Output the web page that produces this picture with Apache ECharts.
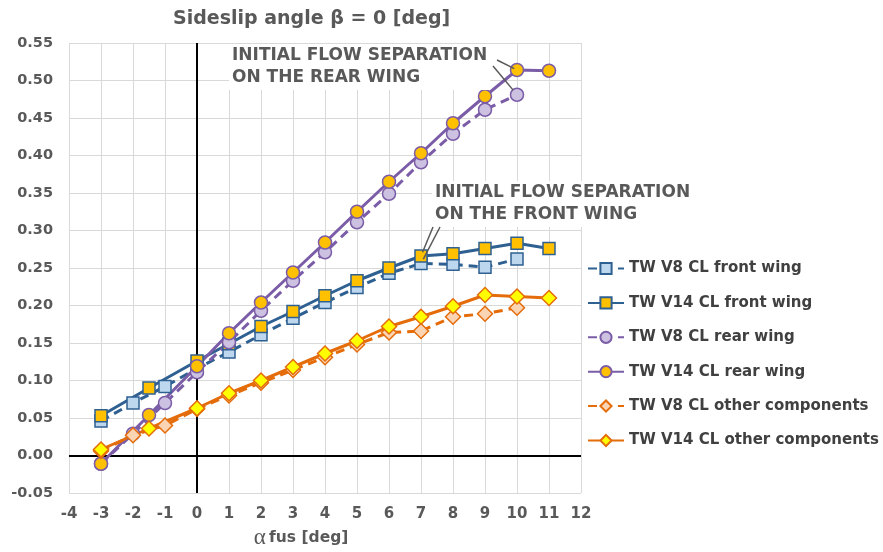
<!DOCTYPE html>
<html><head><meta charset="utf-8">
<script src="https://cdn.jsdelivr.net/npm/echarts@6/dist/echarts.min.js"></script>
<style>html,body{margin:0;padding:0;background:#fff}#c{width:883px;height:552px}</style>
</head><body><div id="c"></div>
<script>
// ---- data ----
var xV8  = [-3, -2, -1, 0, 1, 2, 3, 4, 5, 6, 7, 8, 9, 10];
var xV14 = [-3, -1.5, 0, 1, 2, 3, 4, 5, 6, 7, 8, 9, 10, 11];
var v8Front  = [0.046, 0.070, 0.092, 0.116, 0.138, 0.161, 0.183, 0.204, 0.224, 0.243, 0.256, 0.255, 0.251, 0.262];
var v14Front = [0.053, 0.090, 0.126, 0.149, 0.172, 0.192, 0.213, 0.233, 0.250, 0.266, 0.269, 0.276, 0.283, 0.276];
var v8Rear   = [-0.011, 0.029, 0.070, 0.111, 0.151, 0.193, 0.233, 0.271, 0.311, 0.349, 0.391, 0.429, 0.461, 0.481];
var v14Rear  = [-0.011, 0.054, 0.119, 0.163, 0.204, 0.244, 0.284, 0.325, 0.365, 0.403, 0.443, 0.479, 0.514, 0.513];
var v8Other  = [0.006, 0.027, 0.040, 0.062, 0.080, 0.097, 0.114, 0.131, 0.148, 0.164, 0.166, 0.185, 0.189, 0.197];
var v14Other = [0.008, 0.036, 0.063, 0.083, 0.100, 0.118, 0.136, 0.153, 0.172, 0.185, 0.199, 0.214, 0.212, 0.210];
var seriesNames = ['TW V8 CL front wing', 'TW V14 CL front wing', 'TW V8 CL rear wing',
                   'TW V14 CL rear wing', 'TW V8 CL other components', 'TW V14 CL other components'];
var xTicks = [-4, 12, 1];
var yTicks = [-0.05, 0.55, 0.05];

var BLUE = '#2f6092', PURPLE = '#7a5ca7', ORANGE = '#e46c0a';
var FONT = 'DejaVu Sans, sans-serif';
var GRAY = '#595959';

function pairs(xs, ys) { return xs.map(function (x, i) { return [x, ys[i]]; }); }
function mk(name, xs, ys, color, fill, symbol, size, dashed) {
  return {
    name: name, type: 'line', data: pairs(xs, ys),
    symbol: symbol, symbolSize: size, showAllSymbol: true,
    lineStyle: { color: color, width: 3, type: dashed ? [9, 6] : 'solid' },
    itemStyle: { color: fill, borderColor: color, borderWidth: 1.5 },
    emphasis: { disabled: true }, animation: false, z: 3
  };
}

var series = [
  mk(seriesNames[0], xV8, v8Front, BLUE, '#bdd7ee', 'rect', 12, true),
  mk(seriesNames[1], xV14, v14Front, BLUE, '#ffc000', 'rect', 12, false),
  mk(seriesNames[2], xV8, v8Rear, PURPLE, '#ccc1e0', 'circle', 13, true),
  mk(seriesNames[3], xV14, v14Rear, PURPLE, '#ffc000', 'circle', 13, false),
  mk(seriesNames[4], xV8, v8Other, ORANGE, '#fbd4b4', 'diamond', 15, true),
  mk(seriesNames[5], xV14, v14Other, ORANGE, '#ffff00', 'diamond', 15, false)
];
// black zero axes
series.push({
  type: 'line', data: [], silent: true, z: 2,
  markLine: {
    silent: true, symbol: 'none', animation: false, z: 2,
    label: { show: false },
    lineStyle: { color: '#000', width: 2, type: 'solid' },
    data: [{ xAxis: 0 }, { yAxis: 0 }]
  }
});

var chart = echarts.init(document.getElementById('c'), null, { renderer: 'canvas' });
chart.setOption({
  animation: false,
  backgroundColor: '#fff',
  title: {
    text: 'Sideslip angle \u03b2 = 0 [deg]', left: 168, top: 5,
    textStyle: { fontFamily: FONT, fontSize: 19, fontWeight: 'bold', color: GRAY }
  },
  grid: { left: 69, right: 302, top: 43, bottom: 59, containLabel: false },
  xAxis: {
    type: 'value', min: xTicks[0], max: xTicks[1], interval: xTicks[2],
    axisLine: { show: false }, axisTick: { show: false },
    splitLine: { show: true, lineStyle: { color: '#d9d9d9', width: 1 } },
    axisLabel: { margin: 14, fontFamily: FONT, fontSize: 15, fontWeight: 'bold', color: GRAY }
  },
  yAxis: {
    type: 'value', min: yTicks[0], max: yTicks[1], interval: yTicks[2],
    axisLine: { show: false }, axisTick: { show: false },
    splitLine: { show: true, lineStyle: { color: '#d9d9d9', width: 1 } },
    axisLabel: { margin: 16, fontFamily: FONT, fontSize: 14.5, fontWeight: 'bold', color: GRAY,
      formatter: function (v) { return v.toFixed(2); } }
  },
  legend: {
    orient: 'vertical', left: 582, top: 256, itemWidth: 36, itemHeight: 14, itemGap: 19.4,
    data: seriesNames,
    textStyle: { fontFamily: FONT, fontSize: 15, fontWeight: 'bold', color: '#404040' }
  },
  series: series
});

function leader(fromX, fromY, pt, shorten) {
  var p = chart.convertToPixel({ gridIndex: 0 }, pt);
  var dx = p[0] - fromX, dy = p[1] - fromY, d = Math.sqrt(dx * dx + dy * dy);
  return { type: 'line', z: 50, silent: true,
    shape: { x1: fromX, y1: fromY, x2: p[0] - dx / d * shorten, y2: p[1] - dy / d * shorten },
    style: { stroke: GRAY, lineWidth: 1.5 } };
}
var annStyle = { fontFamily: FONT, fontSize: 17, fontWeight: 'bold', fill: GRAY, lineHeight: 22,
  backgroundColor: '#fff', padding: [1, 3, 1, 3] };
function ann(x, y, txt) {
  return { type: 'text', z: 40, silent: true, left: x, top: y,
    style: Object.assign({ text: txt }, annStyle) };
}
var i10a = xV14.indexOf(10), i10b = xV8.indexOf(10), i7a = xV14.indexOf(7), i7b = xV8.indexOf(7);
chart.setOption({
  graphic: [
    ann(229, 44, 'INITIAL FLOW SEPARATION\nON THE REAR WING'),
    ann(432, 181, 'INITIAL FLOW SEPARATION\nON THE FRONT WING'),
    leader(497, 60, [10, v14Rear[i10a]], 3),
    leader(493, 66, [10, v8Rear[i10b]], 6),
    leader(433, 227, [7, v14Front[i7a]], 4),
    leader(440, 227, [7, v8Front[i7b]], 5),
    { type: 'text', z: 40, silent: true,
      style: { x: 301, y: 538, align: 'center', verticalAlign: 'middle',
        text: '{a|\u03b1} {b|fus [deg]}',
        rich: { a: { fontFamily: 'Liberation Serif, serif', fontSize: 23, fill: GRAY },
                b: { fontFamily: FONT, fontSize: 15.5, fontWeight: 'bold', fill: GRAY } } } }
  ]
});
</script></body></html>
